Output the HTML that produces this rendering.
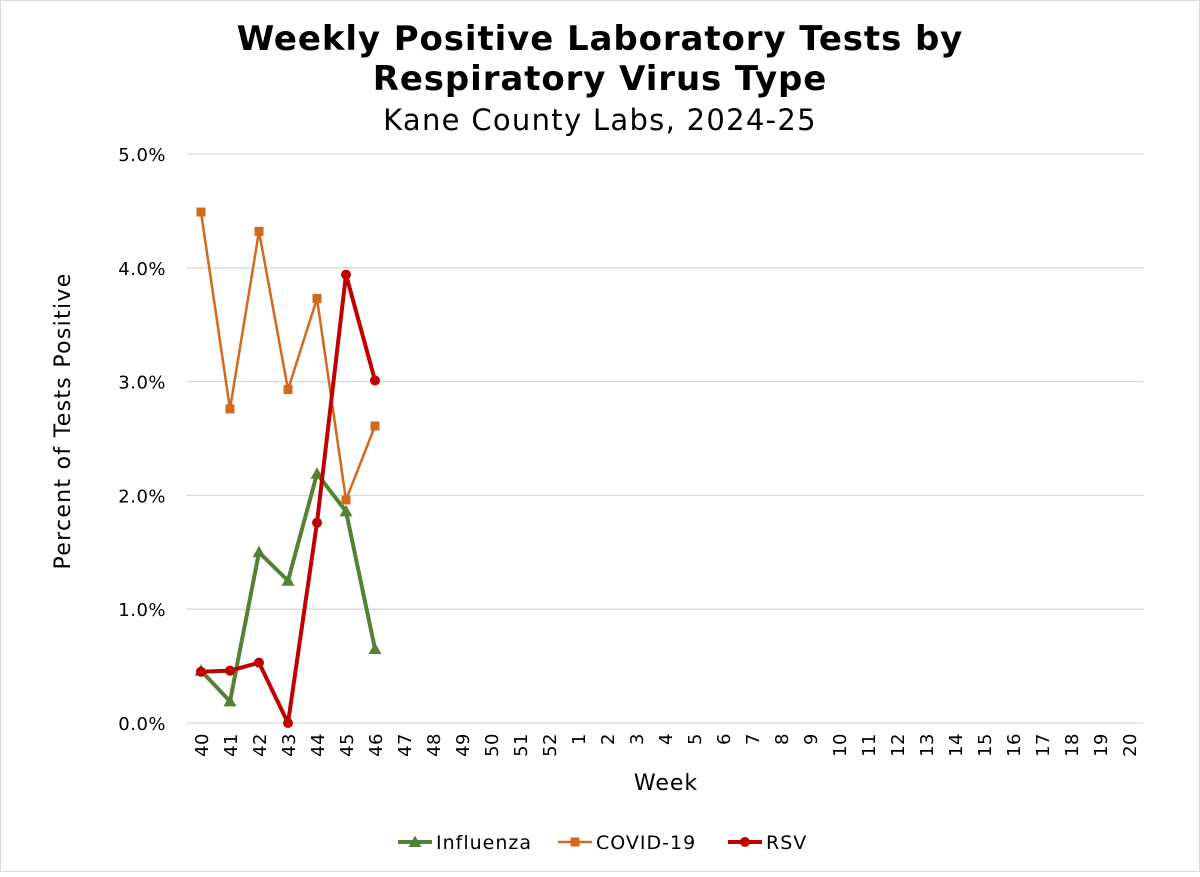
<!DOCTYPE html>
<html><head><meta charset="utf-8"><style>
html,body{margin:0;padding:0;background:#fff;}
svg text{font-family:"DejaVu Sans","Liberation Sans",sans-serif;fill:#000;}
</style></head><body>
<svg id="chart" width="1200" height="872" viewBox="0 0 1200 872" xmlns="http://www.w3.org/2000/svg">
<rect x="0.5" y="0.5" width="1199" height="871" fill="#fff" stroke="#d9d9d9"/>
<text x="600" y="50" text-anchor="middle" font-size="34" font-weight="bold" letter-spacing="0.9">Weekly Positive Laboratory Tests by</text>
<text x="600" y="90" text-anchor="middle" font-size="34" font-weight="bold" letter-spacing="0.9">Respiratory Virus Type</text>
<text x="600" y="130" text-anchor="middle" font-size="29" letter-spacing="1.3">Kane County Labs, 2024-25</text>
<g id="grid"></g>
<g id="ylabels"></g>
<g id="xlabels"></g>
<g id="series"></g>
<text transform="translate(70,421) rotate(-90)" text-anchor="middle" font-size="22" letter-spacing="1.3">Percent of Tests Positive</text>
<text x="666" y="790" text-anchor="middle" font-size="22" letter-spacing="1">Week</text>
<g id="legend"></g>
</svg>
<script>
const weeks=["40","41","42","43","44","45","46","47","48","49","50","51","52","1","2","3","4","5","6","7","8","9","10","11","12","13","14","15","16","17","18","19","20"];
const yTicks=[0,1,2,3,4,5];
const yTickLabels=["0.0%","1.0%","2.0%","3.0%","4.0%","5.0%"];
const influenza=[0.46,0.19,1.50,1.25,2.19,1.86,0.65];
const covid=[4.49,2.76,4.32,2.93,3.73,1.96,2.61];
const rsv=[0.45,0.46,0.53,0.0,1.76,3.94,3.01];
const seriesNames=["Influenza","COVID-19","RSV"];
const NS="http://www.w3.org/2000/svg";
const L=186.5,R=1143.5,T=154,B=723,ymax=5;
const bw=(R-L)/weeks.length;
const xs=i=>L+bw*(i+0.5);
const ys=v=>B-(v/ymax)*(B-T);
function mk(tag,attrs,parent){const e=document.createElementNS(NS,tag);for(const k in attrs)e.setAttribute(k,attrs[k]);parent.appendChild(e);return e;}
const grid=document.getElementById('grid'),yl=document.getElementById('ylabels'),xl=document.getElementById('xlabels'),sg=document.getElementById('series'),lg=document.getElementById('legend');
yTicks.forEach((t,i)=>{
 const g=mk('line',{x1:L,x2:R,y1:ys(t),y2:ys(t),stroke:'#d9d9d9','stroke-width':1.3},grid);
 
 
 const tx=mk('text',{x:166,y:ys(t)+7,'text-anchor':'end','font-size':18,'letter-spacing':0.5},yl);
 tx.textContent=yTickLabels[i];
 
 
});
weeks.forEach((w,i)=>{
 const tx=mk('text',{transform:`translate(${xs(i)+7},${733}) rotate(-90)`,'text-anchor':'end','font-size':18,'letter-spacing':0.5},xl);
 tx.textContent=w;
 
 
});
function marker(type,x,y,color,parent){
 let e;
 if(type==='tri'){e=mk('polygon',{points:`${x},${y-6.5} ${x-6.5},${y+5} ${x+6.5},${y+5}`,fill:color},parent);}
 else if(type==='sq'){e=mk('rect',{x:x-4.5,y:y-4.5,width:9,height:9,fill:color},parent);}
 else{e=mk('circle',{cx:x,cy:y,r:5,fill:color},parent);}
 return e;
}
const defs=[[influenza,'#548235','tri',4,'influenza'],[covid,'#D2691E','sq',2.5,'covid-19'],[rsv,'#C00000','circ',4,'rsv']];
defs.forEach(([data,color,mt,sw,nm])=>{
 const pts=data.map((v,i)=>`${xs(i)},${ys(v)}`).join(' ');
 const pl=mk('polyline',{points:pts,fill:'none',stroke:color,'stroke-width':sw,'stroke-linejoin':'round'},sg);
 
 
 data.forEach((v,i)=>{
  const m=marker(mt,xs(i),ys(v),color,sg);
  
  
 });
});
const legX=[398,558,728];
defs.forEach(([d,color,mt,sw,nm],i)=>{
 const g=mk('g',{},lg);
 
 
 mk('line',{x1:legX[i],x2:legX[i]+34,y1:842,y2:842,stroke:color,'stroke-width':sw},g);
 marker(mt,legX[i]+17,842,color,g);
 const t=mk('text',{x:legX[i]+38,y:849,'font-size':19,'letter-spacing':1},g);
 t.textContent=seriesNames[i];
});
</script>
</body></html>
